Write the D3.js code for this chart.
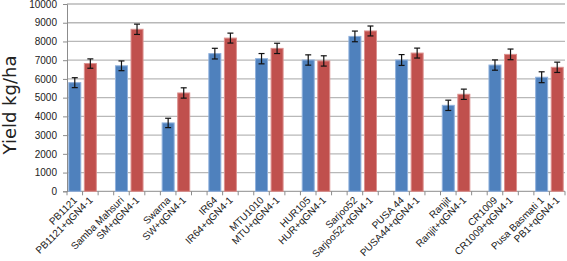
<!DOCTYPE html>
<html><head><meta charset="utf-8">
<script src="https://cdn.jsdelivr.net/npm/d3@7"></script>
<style>body{margin:0;background:#fff}svg{display:block}</style>
</head><body><svg id="c" width="567" height="261"></svg>
<script>
const varieties = ["PB1121","Samba Mahsuri","Swarna","IR64","MTU1010","HUR105","Sarjoo52","PUSA 44","Ranjit","CR1009","Pusa Basmati 1"];
const introgression = ["PB1121+qGN4-1","SM+qGN4-1","SW+qGN4-1","IR64+qGN4-1","MTU+qGN4-1","HUR+qGN4-1","Sarjoo52+qGN4-1","PUSA44+qGN4-1","Ranjit+qGN4-1","CR1009+qGN4-1","PB1+qGN4-1"];
const parentYield = [5800,6700,3650,7350,7080,7010,8270,7010,4590,6740,6090];
const parentErr   = [265,260,250,285,275,275,285,290,275,275,290];
const ngYield     = [6820,8650,5250,8180,7630,6960,8560,7380,5180,7310,6620];
const ngErr       = [250,275,275,265,275,275,265,265,275,285,275];
const yTicks = [0,1000,2000,3000,4000,5000,6000,7000,8000,9000,10000];

const svg = d3.select("#c");
const mLeft = 67, mTop = 4, mBottom = 191.3, mRight = 565;
// 3 category slots per variety (parent, +qGN4-1, gap), last gap omitted
const slots = [];
varieties.forEach((v,i)=>{ slots.push("p"+i, "n"+i); if (i < varieties.length-1) slots.push("g"+i); });
const x = d3.scaleBand().domain(slots).range([mLeft, mRight]).padding(0);
const y = d3.scaleLinear().domain([0,10000]).range([mBottom, mTop]);
const bw = 12;

// gridlines
svg.append("g").selectAll("line").data(yTicks.slice(1)).join("line")
  .attr("x1", mLeft).attr("x2", mRight).attr("y1", d=>y(d)).attr("y2", d=>y(d))
  .attr("stroke", "#b8b8b8").attr("stroke-width", 1.3);

// y axis
const ya = svg.append("g").attr("transform",`translate(${mLeft},0)`)
  .call(d3.axisLeft(y).tickValues(yTicks).tickSize(4).tickPadding(6).tickFormat(d3.format("d")));
ya.select(".domain").attr("stroke","#8c8c8c");
ya.selectAll(".tick line").attr("stroke","#8c8c8c");
ya.selectAll("text").attr("font-family","Liberation Sans, Arial, sans-serif").attr("font-size",10).attr("fill","#222");

// x axis line and ticks
svg.append("line").attr("x1", mLeft).attr("x2", mRight).attr("y1", mBottom).attr("y2", mBottom).attr("stroke","#8c8c8c");
svg.append("g").selectAll("line").data(slots.concat(["end"])).join("line")
  .attr("x1", d=>d==="end"?mRight:x(d)).attr("x2", d=>d==="end"?mRight:x(d))
  .attr("y1", mBottom).attr("y2", mBottom+4).attr("stroke","#8c8c8c");

// bars
function bars(vals, errs, pre, fill, stroke){
  const g = svg.append("g");
  const data = vals.map((v,i)=>({k:pre+i, v, e:errs[i]}));
  g.selectAll("rect").data(data).join("rect")
    .attr("x", d=>x(d.k) + (x.bandwidth()-bw)/2).attr("width", bw)
    .attr("y", d=>y(d.v)).attr("height", d=>y(0)-y(d.v))
    .attr("fill", fill).attr("stroke", stroke).attr("stroke-width", 1);
  const cx = d=>x(d.k) + x.bandwidth()/2;
  g.selectAll("line.e").data(data).join("line").attr("class","e")
    .attr("x1", cx).attr("x2", cx).attr("y1", d=>y(d.v+d.e)).attr("y2", d=>y(d.v-d.e))
    .attr("stroke","#111").attr("stroke-width",1.2);
  [1,-1].forEach(s=>{
    g.selectAll("line.c"+(s>0?"u":"d")).data(data).join("line").attr("class","c"+(s>0?"u":"d"))
      .attr("x1", d=>cx(d)-3).attr("x2", d=>cx(d)+3)
      .attr("y1", d=>y(d.v+s*d.e)).attr("y2", d=>y(d.v+s*d.e))
      .attr("stroke","#111").attr("stroke-width",1.2);
  });
}
bars(parentYield, parentErr, "p", "#4f81bd", "#8fb0dc");
bars(ngYield, ngErr, "n", "#c0504d", "#dc8f8d");

// x labels
const labels = [];
varieties.forEach((v,i)=>{ labels.push({k:"p"+i, t:v}); labels.push({k:"n"+i, t:introgression[i]}); });
svg.append("g").selectAll("text").data(labels).join("text")
  .attr("transform", d=>`translate(${x(d.k)+x.bandwidth()/2+3},${mBottom+9.5}) rotate(-45)`)
  .attr("text-anchor","end")
  .attr("font-family","Liberation Sans, Arial, sans-serif").attr("font-size",10).attr("fill","#222")
  .text(d=>d.t);

// y title
svg.append("text").attr("transform","translate(16,105) rotate(-90)").attr("text-anchor","middle")
  .attr("font-family","DejaVu Sans, sans-serif").attr("font-size",18).attr("fill","#222")
  .text("Yield kg/ha");
</script></body></html>
